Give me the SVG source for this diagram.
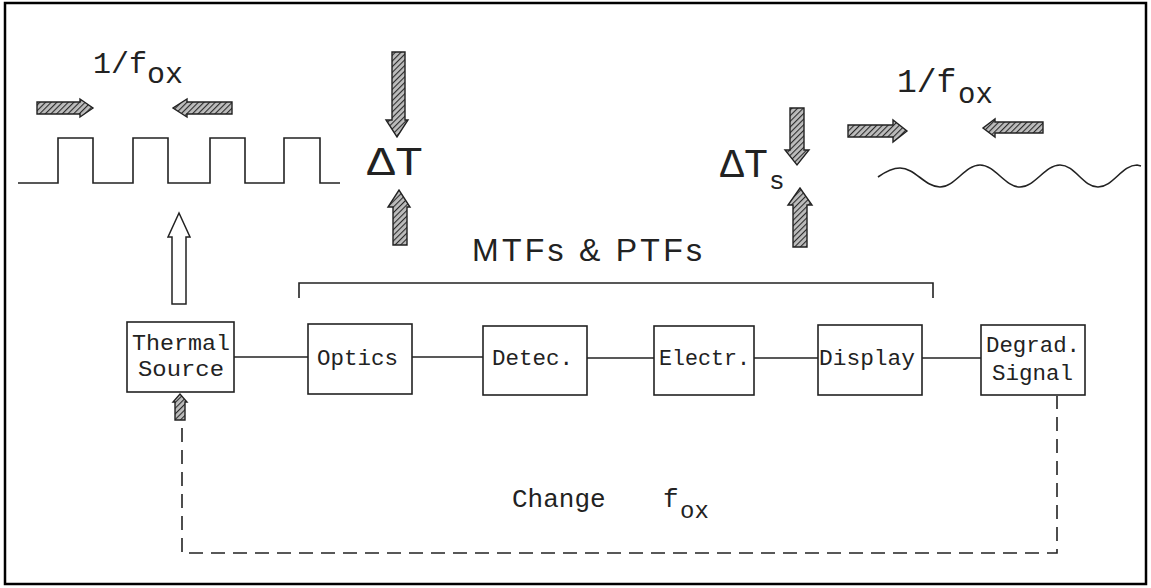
<svg xmlns="http://www.w3.org/2000/svg" width="1151" height="588" viewBox="0 0 1151 588">
<style>
.box{fill:#fff;stroke:#222;stroke-width:1.6}
.lbl{font-family:"Liberation Mono","DejaVu Sans Mono",monospace;font-size:22px;fill:#222}
.mono{font-family:"Liberation Mono","DejaVu Sans Mono",monospace;fill:#222}
.line{fill:none;stroke:#222;stroke-width:1.6}
.dash{fill:none;stroke:#222;stroke-width:1.6;stroke-dasharray:14 8}
.harrow{fill:url(#hatch);stroke:#222;stroke-width:1.4}
.hollow{fill:#fff;stroke:#222;stroke-width:1.5}
</style>
<defs>
<pattern id="hatch" width="4" height="4" patternUnits="userSpaceOnUse" patternTransform="rotate(45)">
<rect width="4" height="4" fill="#bdbdbd"/>
<line x1="0" y1="0" x2="0" y2="4" stroke="#2a2a2a" stroke-width="2.2"/>
</pattern>
</defs>
<rect x="0" y="0" width="1151" height="588" fill="#fff"/>
<rect x="5" y="3" width="1141" height="581" fill="none" stroke="#000" stroke-width="2.5"/>

<g id="input-signal">
<text class="mono" font-size="30"><tspan x="93" y="73">1/f</tspan><tspan x="147" y="83">ox</tspan></text>
<path class="harrow" d="M37,102 H80 V99 L93,108 L80,117 V114 H37 Z"/>
<path class="harrow" d="M232,102 H187 V99 L173,108 L187,117 V114 H232 Z"/>
<path class="line" d="M18,183 H58 V138 H93 V183 H133 V138 H168 V183 H210 V138 H245 V183 H284 V138 H320 V183 H340"/>
</g>

<g id="delta-t">
<path class="harrow" d="M392,52 V120 H386 L397,137 L408,120 H405 V52 Z"/>
<text class="mono" x="367" y="175" font-size="40" textLength="56" lengthAdjust="spacingAndGlyphs">ΔT</text>
<path class="harrow" d="M393,245 V207 H388 L399,190 L410,207 H407 V245 Z"/>
</g>

<g id="delta-ts">
<path class="harrow" d="M790,108 V150 H785 L797,165 L809,150 H804 V108 Z"/>
<text class="mono" font-size="40"><tspan x="720" y="177">ΔT</tspan><tspan x="769" y="189" font-size="26">s</tspan></text>
<path class="harrow" d="M793,247 V205 H788 L800,188 L812,205 H807 V247 Z"/>
</g>

<g id="output-signal">
<text class="mono" font-size="33"><tspan x="897" y="92">1/f</tspan><tspan x="958" y="103" font-size="29">ox</tspan></text>
<path class="harrow" d="M848,125 H893 V120 L907,131 L893,142 V137 H848 Z"/>
<path class="harrow" d="M1043,122 H995 V119 L983,128 L995,137 V133 H1043 Z"/>
<path class="line" d="M878,177 C885,172 892,168 900,168 C915,168 925,187 940,187 C955,187 965,165 980,165 C995,165 1005,187 1020,187 C1035,187 1045,165 1060,165 C1075,165 1083,187 1098,187 C1113,187 1122,165 1137,165 L1141,166"/>
</g>

<g id="mtf-bracket">
<text x="472" y="261" font-family="Liberation Sans, Arial, sans-serif" font-size="32" fill="#222" textLength="230">MTFs &amp; PTFs</text>
<path class="line" d="M299,298 V283 H933 V298"/>
</g>

<g id="connectors">
<path class="line" d="M234,357 H308"/>
<path class="line" d="M412,357 H483"/>
<path class="line" d="M587,358 H654"/>
<path class="line" d="M754,358 H818"/>
<path class="line" d="M922,358 H981"/>
<path class="hollow" d="M172,304 V237 H168 L179,213 L190,237 H186 V304 Z"/>
<path class="harrow" d="M175,420 V402 H173 L180,394 L187,402 H185 V420 Z"/>
<path class="dash" d="M182,428 V553 H1057 V396"/>
</g>

<g id="thermal-source">
<rect class="box" x="127" y="322" width="107" height="70"/>
<text class="lbl" x="132" y="350" textLength="98" lengthAdjust="spacingAndGlyphs">Thermal</text>
<text class="lbl" x="138" y="376" textLength="86" lengthAdjust="spacingAndGlyphs">Source</text>
</g>
<g id="optics">
<rect class="box" x="308" y="324" width="104" height="70"/>
<text class="lbl" x="317" y="365" textLength="81" lengthAdjust="spacingAndGlyphs">Optics</text>
</g>
<g id="detec">
<rect class="box" x="483" y="326" width="104" height="69"/>
<text class="lbl" x="492" y="365" textLength="81" lengthAdjust="spacingAndGlyphs">Detec.</text>
</g>
<g id="electr">
<rect class="box" x="654" y="326" width="100" height="69"/>
<text class="lbl" x="659" y="365" textLength="91" lengthAdjust="spacingAndGlyphs">Electr.</text>
</g>
<g id="display">
<rect class="box" x="818" y="325" width="104" height="70"/>
<text class="lbl" x="819" y="365" textLength="96" lengthAdjust="spacingAndGlyphs">Display</text>
</g>
<g id="degrad-signal">
<rect class="box" x="981" y="325" width="104" height="70"/>
<text class="lbl" x="986" y="352" textLength="94" lengthAdjust="spacingAndGlyphs">Degrad.</text>
<text class="lbl" x="992" y="380" textLength="81" lengthAdjust="spacingAndGlyphs">Signal</text>
</g>

<g id="change-label">
<text class="mono" font-size="26"><tspan x="512" y="507">Change</tspan><tspan x="663" y="507">f</tspan><tspan x="680" y="518" font-size="24">ox</tspan></text>
</g>
</svg>
